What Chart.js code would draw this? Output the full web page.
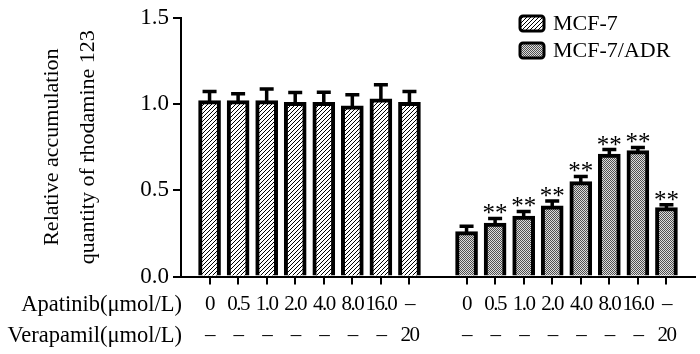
<!DOCTYPE html>
<html><head><meta charset="utf-8">
<script src="https://cdn.jsdelivr.net/npm/chart.js@4/dist/chart.umd.min.js"></script>
<style>html,body{margin:0;padding:0;background:#fff}#wrap{width:700px;height:354px}</style>
</head><body><div id="wrap"><canvas id="c" width="700" height="354"></canvas></div>
<script>
// ---- data ----
const apatinibLabels = ['0', '0.5', '1.0', '2.0', '4.0', '8.0', '16.0', '–'];
const verapamilLabels = ['–', '–', '–', '–', '–', '–', '–', '20'];
const rowTitles = ['Apatinib(μmol/L)', 'Verapamil(μmol/L)'];
const seriesNames = ['MCF-7', 'MCF-7/ADR'];
const mcf7Values = [1.02, 1.02, 1.02, 1.01, 1.01, 0.99, 1.03, 1.01];
const mcf7Errors = [0.052, 0.039, 0.067, 0.057, 0.058, 0.064, 0.082, 0.062];
const adrValues = [0.26, 0.31, 0.35, 0.41, 0.55, 0.71, 0.73, 0.40];
const adrErrors = [0.031, 0.027, 0.027, 0.028, 0.03, 0.026, 0.018, 0.016];
const adrMarks = ['', '**', '**', '**', '**', '**', '**', '**'];
const yTicks = [0, 0.5, 1.0, 1.5];
const yTitle = ['Relative accumulation', 'quantity of rhodamine 123'];

// ---- build category layout: pad, group 1, gap, group 2, pad ----
const n = apatinibLabels.length;
const groupLabels = apatinibLabels.map((a, i) => [a, verapamilLabels[i]]);
const labels = [''].concat(groupLabels, [''], groupLabels, ['']);
const padIdx = new Set([0, n + 1, 2 * n + 2]);
const nulls = Array(n).fill(null);
const ds1 = [null].concat(mcf7Values, [null], nulls, [null]);
const ds1Err = [null].concat(mcf7Errors, [null], nulls, [null]);
const ds2 = [null].concat(nulls, [null], adrValues, [null]);
const ds2Err = [null].concat(nulls, [null], adrErrors, [null]);
const ds2Marks = [null].concat(nulls, [null], adrMarks, [null]);

// ---- fill patterns ----
function hatchPattern(ctx) {
  const t = document.createElement('canvas'); t.width = 4; t.height = 4;
  const c = t.getContext('2d');
  c.fillStyle = '#fff'; c.fillRect(0, 0, 4, 4);
  c.strokeStyle = '#000'; c.lineWidth = 1.0;
  c.beginPath();
  c.moveTo(-1, 5); c.lineTo(5, -1);
  c.moveTo(-1, 1); c.lineTo(1, -1);
  c.moveTo(3, 5); c.lineTo(5, 3);
  c.stroke();
  return ctx.createPattern(t, 'repeat');
}
function stipplePattern(ctx) {
  const t = document.createElement('canvas'); t.width = 2; t.height = 2;
  const c = t.getContext('2d');
  c.fillStyle = '#dcdcdc'; c.fillRect(0, 0, 2, 2);
  c.fillStyle = '#505050'; c.fillRect(0, 0, 1, 1); c.fillRect(1, 1, 1, 1);
  return ctx.createPattern(t, 'repeat');
}

const canvas = document.getElementById('c');
const ctx0 = canvas.getContext('2d');
const FONT = 'Liberation Serif';

const errorBarPlugin = {
  id: 'errorBars',
  afterDatasetsDraw(chart) {
    const ctx = chart.ctx, ys = chart.scales.y;
    chart.data.datasets.forEach((ds, di) => {
      const meta = chart.getDatasetMeta(di);
      meta.data.forEach((el, j) => {
        const v = ds.data[j];
        if (v === null || v === undefined) return;
        const e = ds.errors[j];
        const yCap = ys.getPixelForValue(v + e);
        ctx.save();
        ctx.strokeStyle = '#000'; ctx.lineWidth = 3.5; ctx.lineCap = 'butt';
        ctx.beginPath();
        ctx.moveTo(el.x, el.y + 2); ctx.lineTo(el.x, yCap);
        ctx.moveTo(el.x - 7, yCap); ctx.lineTo(el.x + 7, yCap);
        ctx.stroke();
        if (ds.marks && ds.marks[j]) {
          ctx.fillStyle = '#000';
          ctx.font = '25px "' + FONT + '"';
          ctx.textAlign = 'center'; ctx.textBaseline = 'alphabetic';
          ctx.fillText(ds.marks[j], el.x, yCap + 3);
        }
        ctx.restore();
      });
    });
  }
};

const tightLabelsPlugin = {
  id: 'tightLabels',
  beforeDraw(chart) {
    const xs = chart.scales.x;
    if (xs && !xs._tight) {
      const orig = xs.drawLabels;
      xs.drawLabels = function (area) {
        this.ctx.save();
        this.ctx.letterSpacing = '-1.5px';
        orig.call(this, area);
        this.ctx.restore();
      };
      xs._tight = true;
    }
  }
};

const extrasPlugin = {
  id: 'extras',
  afterDraw(chart) {
    const ctx = chart.ctx, xs = chart.scales.x;
    ctx.save();
    // row titles aligned with x tick label rows
    const tl = xs.options.grid.tickLength, pad = xs.options.ticks.padding;
    const lh = 31;
    ctx.font = '22.5px "' + FONT + '"';
    ctx.fillStyle = '#000'; ctx.textAlign = 'right'; ctx.textBaseline = 'middle';
    rowTitles.forEach((t, i) => {
      ctx.fillText(t, chart.chartArea.left + 1, xs.top + tl + pad + lh / 2 + 1 + i * lh);
    });
    // legend
    const bx = 520, bw = 24, bh = 15;
    const rows = [16, 43];
    chart.data.datasets.forEach((ds, i) => {
      const y = rows[i];
      ctx.beginPath();
      ctx.roundRect(bx, y, bw, bh, 3);
      ctx.fillStyle = ds.backgroundColor; ctx.fill();
      ctx.lineWidth = 3; ctx.strokeStyle = '#000'; ctx.stroke();
      ctx.fillStyle = '#000';
      ctx.font = '22px "' + FONT + '"';
      ctx.textAlign = 'left'; ctx.textBaseline = 'middle';
      ctx.fillText(ds.label, 553, y + bh / 2 + 1);
    });
    ctx.restore();
  }
};

new Chart(canvas, {
  type: 'bar',
  data: {
    labels: labels,
    datasets: [
      { label: seriesNames[0], data: ds1, errors: ds1Err, backgroundColor: hatchPattern(ctx0),
        borderColor: '#000', borderWidth: 4, barThickness: 22, grouped: false },
      { label: seriesNames[1], data: ds2, errors: ds2Err, marks: ds2Marks, backgroundColor: stipplePattern(ctx0),
        borderColor: '#000', borderWidth: 4, barThickness: 22, grouped: false }
    ]
  },
  options: {
    responsive: false,
    animation: false,
    devicePixelRatio: 1,
    layout: { padding: { top: 12, right: 5, left: 0, bottom: 0 } },
    plugins: { legend: { display: false }, tooltip: { enabled: false } },
    scales: {
      x: {
        type: 'category',
        offset: false,
        grid: {
          offset: false, drawOnChartArea: false, drawTicks: true, tickLength: 8, lineWidth: 2,
          color: (c) => padIdx.has(c.index) ? 'rgba(0,0,0,0)' : '#000'
        },
        border: { display: true, color: '#000', width: 2 },
        ticks: {
          autoSkip: false, maxRotation: 0, minRotation: 0, padding: 4, color: '#000',
          font: { family: FONT, size: 21, lineHeight: 31 / 21 }
        },
        afterFit: (s) => { s.height = 77.5; }
      },
      y: {
        min: 0, max: 1.5,
        afterBuildTicks: (s) => { s.ticks = yTicks.map(v => ({ value: v })); },
        grid: { drawOnChartArea: false, drawTicks: true, tickLength: 8, lineWidth: 2, color: '#000' },
        border: { display: true, color: '#000', width: 2 },
        ticks: {
          padding: 4, color: '#000',
          font: { family: FONT, size: 23 },
          callback: (v) => Number(v).toFixed(1)
        },
        title: {
          display: true, text: yTitle, color: '#000',
          font: { family: FONT, size: 22, lineHeight: 36 / 22 },
          padding: { top: 34, bottom: 0 }
        },
        afterFit: (s) => { s.width = 181; }
      }
    }
  },
  plugins: [tightLabelsPlugin, errorBarPlugin, extrasPlugin]
});
</script>
</body></html>
